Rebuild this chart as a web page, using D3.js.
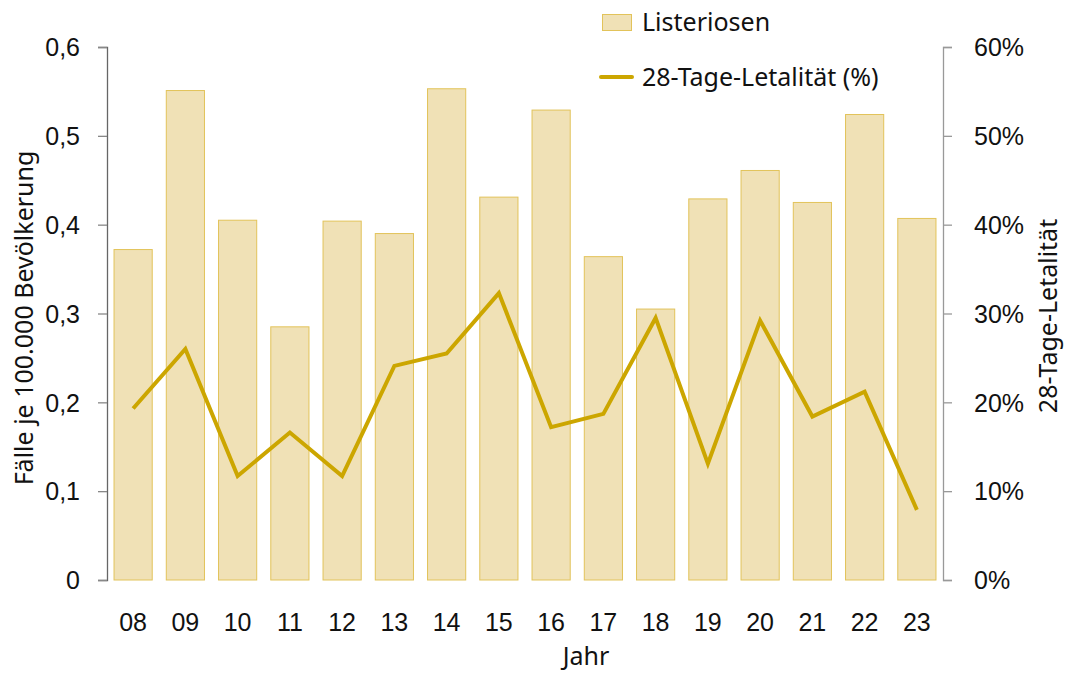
<!DOCTYPE html>
<html>
<head>
<meta charset="utf-8">
<script src="https://cdn.jsdelivr.net/npm/d3@7"></script>
<style>
  body { margin: 0; background: #fff; }
  svg { display: block; font-family: "Noto Sans", "Open Sans", sans-serif; }
  .tick text { fill: #111; }
</style>
</head>
<body>
<div id="chart"></div>
<script>
// data
const years = ['08', '09', '10', '11', '12', '13', '14', '15', '16', '17', '18', '19', '20', '21', '22', '23'];
const cases = [0.372, 0.551, 0.405, 0.285, 0.404, 0.390, 0.553, 0.431, 0.529, 0.364, 0.305, 0.429, 0.461, 0.425, 0.524, 0.407];
const lethality = [19.3, 26.0, 11.7, 16.6, 11.7, 24.1, 25.5, 32.3, 17.2, 18.7, 29.5, 13.1, 29.2, 18.4, 21.2, 7.9];
const leftTicks = [0, 0.1, 0.2, 0.3, 0.4, 0.5, 0.6];
const rightTicks = [0, 10, 20, 30, 40, 50, 60];

const width = 1065, height = 673;
const margin = { left: 107, right: 122, top: 47, bottom: 93 };
const fs = '25px';

const svg = d3.select('#chart').append('svg')
  .attr('width', width)
  .attr('height', height);

const x = d3.scaleBand()
  .domain(years)
  .range([margin.left, width - margin.right])
  .paddingInner(0.25)
  .paddingOuter(0.125);

const y = d3.scaleLinear()
  .domain([0, 0.6])
  .range([height - margin.bottom, margin.top]);

const y2 = d3.scaleLinear()
  .domain([0, 60])
  .range([height - margin.bottom, margin.top]);

const data = years.map((yr, i) => ({ year: yr, cases: cases[i], leth: lethality[i] }));

// bars
svg.append('g')
  .selectAll('rect')
  .data(data)
  .enter()
  .append('rect')
  .attr('x', d => x(d.year) + 0.5)
  .attr('y', d => y(d.cases))
  .attr('width', x.bandwidth() - 1)
  .attr('height', d => y(0) - y(d.cases))
  .style('fill', '#f0e1b6')
  .style('stroke', '#e2c35a')
  .style('stroke-width', 1);

// line
const line = d3.line()
  .x(d => x(d.year) + x.bandwidth() / 2)
  .y(d => y2(d.leth));

svg.append('path')
  .datum(data)
  .attr('d', line)
  .style('fill', 'none')
  .style('stroke', '#cca600')
  .style('stroke-width', 4)
  .style('stroke-linejoin', 'miter');

// left axis
const fmtComma = d => d === 0 ? '0' : d3.format('.1f')(d).replace('.', ',');
const gl = svg.append('g')
  .attr('transform', 'translate(' + margin.left + ',0)')
  .call(d3.axisLeft(y).tickValues(leftTicks).tickFormat(fmtComma).tickSize(9).tickPadding(18));
gl.select('.domain').style('stroke', '#666').style('stroke-width', 1.3);
gl.selectAll('.tick line').style('stroke', '#888').style('stroke-width', 1.3);
gl.selectAll('.tick text').style('font-size', fs).attr('dy', '0.35em');

// right axis
const xr = width - margin.right;
const gr = svg.append('g')
  .attr('transform', 'translate(' + xr + ',0)')
  .call(d3.axisRight(y2).tickValues(rightTicks).tickFormat(d => d + '%').tickSize(9).tickPadding(22));
gr.select('.domain').style('stroke', '#999').style('stroke-width', 1.3);
gr.selectAll('.tick line').style('stroke', '#999').style('stroke-width', 1.3);
gr.selectAll('.tick text').style('font-size', fs).attr('dy', '0.35em');

// bottom labels (no axis line)
const gb = svg.append('g')
  .attr('transform', 'translate(0,' + (height - margin.bottom) + ')')
  .call(d3.axisBottom(x).tickSize(0).tickPadding(33));
gb.select('.domain').remove();
gb.selectAll('.tick text').style('font-size', fs);

// axis titles
svg.append('text')
  .attr('transform', 'translate(33,318) rotate(-90)')
  .attr('text-anchor', 'middle')
  .style('font-size', fs)
  .style('fill', '#111')
  .text('Fälle je 100.000 Bevölkerung');

svg.append('text')
  .attr('transform', 'translate(1057,316) rotate(-90)')
  .attr('text-anchor', 'middle')
  .style('font-size', fs)
  .style('fill', '#111')
  .text('28-Tage-Letalität');

svg.append('text')
  .attr('x', 586)
  .attr('y', 665)
  .attr('text-anchor', 'middle')
  .style('font-size', fs)
  .style('fill', '#111')
  .text('Jahr');

// legend
const lg = svg.append('g');
lg.append('rect')
  .attr('x', 602.5).attr('y', 14.5)
  .attr('width', 29).attr('height', 16)
  .style('fill', '#f0e1b6')
  .style('stroke', '#e2c35a');
lg.append('text')
  .attr('x', 642).attr('y', 31)
  .style('font-size', fs).style('fill', '#111')
  .text('Listeriosen');
lg.append('line')
  .attr('x1', 601).attr('x2', 632)
  .attr('y1', 77).attr('y2', 77)
  .style('stroke', '#cca600')
  .style('stroke-width', 4)
  .style('stroke-linecap', 'round');
lg.append('text')
  .attr('x', 642).attr('y', 86)
  .style('font-size', fs).style('fill', '#111')
  .text('28-Tage-Letalität (%)');
</script>
</body>
</html>
